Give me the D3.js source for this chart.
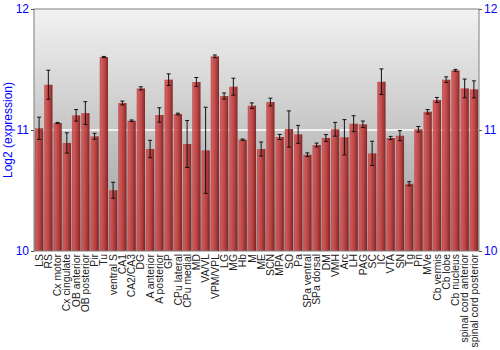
<!DOCTYPE html>
<html>
<head>
<meta charset="utf-8">
<script src="https://cdn.jsdelivr.net/npm/d3@7"></script>
<style>
  body { margin: 0; background: #fff; }
  text { font-family: "Liberation Sans", Arial, sans-serif; }
</style>
</head>
<body>
<div id="chart-area"></div>
<script>
// regions along the x axis
let regions = ["LS", "RS", "Cx motor", "Cx cingulate", "OB anterior", "OB posterior", "Pir", "Tu",
    "ventral S", "CA1", "CA2/CA3", "DG", "A anterior", "A posterior", "GP", "CPu lateral",
    "CPu medial", "MD", "VA/VL", "VPM/VPL", "LG", "MG", "Hb", "M", "ME", "SCN", "MPA", "SO",
    "Pa", "SPa ventral", "SPa dorsal", "DM", "VMH", "Arc", "LH", "PAG", "SC", "IC", "VTA", "SN",
    "Tg", "Pn", "MVe", "Cb vermis", "Cb lobe", "Cb nucleus", "spinal cord anterior", "spinal cord posterior"];

// log2 expression means
let means = [11.014, 11.374, 11.058, 10.893, 11.121, 11.140, 10.948, 11.603,
    10.502, 11.223, 11.077, 11.344, 10.843, 11.124, 11.416, 11.132,
    10.884, 11.397, 10.832, 11.609, 11.281, 11.358, 10.920, 11.201, 10.843, 11.231, 10.942, 11.008,
    10.964, 10.796, 10.876, 10.934, 11.006, 10.940, 11.052, 11.047, 10.807, 11.399, 10.934, 10.953,
    10.556, 11.006, 11.151, 11.248, 11.416, 11.493, 11.344, 11.336];

// error (half length of the whisker)
let errors = [0.092, 0.120, 0.005, 0.084, 0.048, 0.094, 0.025, 0.005,
    0.066, 0.016, 0.006, 0.013, 0.072, 0.060, 0.048, 0.007,
    0.194, 0.037, 0.356, 0.011, 0.025, 0.070, 0.005, 0.023, 0.058, 0.032, 0.021, 0.150,
    0.074, 0.015, 0.016, 0.028, 0.057, 0.146, 0.066, 0.027, 0.100, 0.106, 0.013, 0.042,
    0.017, 0.023, 0.018, 0.021, 0.023, 0.008, 0.077, 0.070];

let yTicks = [10, 11, 12];

let margin = {top: 9, right: 21, bottom: 99, left: 34},
    width = 500 - margin.left - margin.right,
    height = 350 - margin.top - margin.bottom;

let data = regions.map((r, i) => ({region: r, mean: means[i], err: errors[i]}));

let svg = d3.select("#chart-area")
    .append("svg")
    .attr("width", 500)
    .attr("height", 350);

let defs = svg.append("defs");

// grey background gradient
let bg = defs.append("linearGradient")
    .attr("id", "bg").attr("x1", 0).attr("y1", 0).attr("x2", 0).attr("y2", 1);
bg.append("stop").attr("offset", "0%").attr("stop-color", "#f2f2f2");
bg.append("stop").attr("offset", "50%").attr("stop-color", "#c6c6c6");
bg.append("stop").attr("offset", "100%").attr("stop-color", "#999999");

// bar shading, light on the left, dark on the right
let barGrad = defs.append("linearGradient")
    .attr("id", "barGrad").attr("x1", 0).attr("y1", 0).attr("x2", 1).attr("y2", 0);
barGrad.append("stop").attr("offset", "0%").attr("stop-color", "#c44a4a");
barGrad.append("stop").attr("offset", "20%").attr("stop-color", "#cf4f4f");
barGrad.append("stop").attr("offset", "60%").attr("stop-color", "#b63535");
barGrad.append("stop").attr("offset", "100%").attr("stop-color", "#7a1616");

let g = svg.append("g")
    .attr("transform", "translate(" + margin.left + "," + margin.top + ")");

let x = d3.scaleBand()
    .domain(regions)
    .range([0, width])
    .paddingInner(0.1)
    .paddingOuter(0.1);

let y = d3.scaleLinear()
    .domain([10, 12])
    .range([height, 0]);

g.append("rect")
    .attr("width", width)
    .attr("height", height)
    .attr("fill", "url(#bg)");

// grid line(s)
g.selectAll("grid")
    .data(yTicks.filter(t => t > 10 && t < 12))
    .enter()
    .append("line")
    .attr("x1", 0).attr("x2", width)
    .attr("y1", d => y(d)).attr("y2", d => y(d))
    .style("stroke", "#ffffff")
    .style("stroke-width", 1.5);

// bars
g.selectAll("bar")
    .data(data)
    .enter()
    .append("rect")
    .attr("x", d => x(d.region))
    .attr("y", d => y(d.mean))
    .attr("width", x.bandwidth())
    .attr("height", d => height - y(d.mean))
    .attr("fill", "url(#barGrad)")
    .style("opacity", 0.9);

// error bars
let eb = g.selectAll("err")
    .data(data)
    .enter()
    .append("g")
    .attr("transform", d => "translate(" + (x(d.region) + x.bandwidth() / 2) + ",0)");
eb.append("line")
    .attr("y1", d => y(d.mean - d.err)).attr("y2", d => y(d.mean + d.err))
    .style("stroke", "#111").style("stroke-width", 1);
eb.append("line")
    .attr("x1", -2).attr("x2", 2)
    .attr("y1", d => y(d.mean - d.err)).attr("y2", d => y(d.mean - d.err))
    .style("stroke", "#111").style("stroke-width", 1);
eb.append("line")
    .attr("x1", -2).attr("x2", 2)
    .attr("y1", d => y(d.mean + d.err)).attr("y2", d => y(d.mean + d.err))
    .style("stroke", "#111").style("stroke-width", 1);

// frame
g.append("rect")
    .attr("width", width)
    .attr("height", height)
    .attr("fill", "none")
    .style("stroke", "#7f7f7f")
    .style("stroke-width", 1);

// left and right axes
let leftAxis = g.append("g")
    .call(d3.axisLeft(y).tickValues(yTicks).tickFormat(d3.format("d")).tickSize(3).tickPadding(2));
let rightAxis = g.append("g")
    .attr("transform", "translate(" + width + ",0)")
    .call(d3.axisRight(y).tickValues(yTicks).tickFormat(d3.format("d")).tickSize(3).tickPadding(2));
[leftAxis, rightAxis].forEach(a => {
    a.select(".domain").remove();
    a.selectAll("line").style("stroke", "#555");
    a.selectAll("text").style("fill", "#0000ff").style("font-size", "12px")
        .style("font-family", "'Liberation Sans', Arial, sans-serif");
});

// x labels
g.selectAll("xlab")
    .data(regions)
    .enter()
    .append("text")
    .attr("transform", d => "translate(" + (x(d) + x.bandwidth() / 2) + "," + (height + 3) + ") rotate(-90)")
    .attr("dy", "0.35em")
    .style("text-anchor", "end")
    .style("font-size", "10.4px")
    .style("fill", "#222")
    .text(d => d);

// y axis title
svg.append("text")
    .attr("transform", "translate(12," + (margin.top + height / 2) + ") rotate(-90)")
    .style("text-anchor", "middle")
    .style("font-size", "12px")
    .style("fill", "#0000ff")
    .text("Log2 (expression)");
</script>
</body>
</html>
